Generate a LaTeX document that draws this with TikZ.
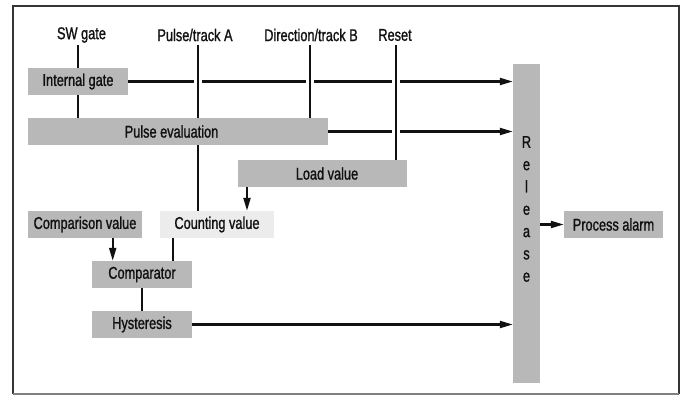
\documentclass[tikz,border=0pt]{standalone}
\usepackage{fontspec}
\setmainfont[FakeStretch=0.75,FakeBold=1.2]{Liberation Sans}
\usetikzlibrary{arrows.meta}
\definecolor{boxgray}{HTML}{B8B8B8}
\definecolor{lightbox}{HTML}{ECECEC}
\definecolor{ink}{HTML}{111111}
\tikzset{
  blk/.style={fill=boxgray, draw=none, inner sep=0pt, minimum height=27pt, text=ink,
    font=\fontsize{17}{20}\selectfont},
  lbl/.style={inner sep=0pt, text=ink, font=\fontsize{17}{20}\selectfont},
  wire/.style={line width=2.1pt, draw=ink},
  arr/.style={wire, -{Triangle[length=13pt,width=7pt]}},
  gapped/.style={wire, preaction={draw=white, line width=8pt}}
}
\begin{document}
\begin{tikzpicture}[x=1pt,y=-1pt]
\useasboundingbox (0,0) rectangle (685,396);
% frame
\draw[line width=2pt, draw=ink!85] (13,394) -- (13,6) -- (679,6) -- (679,394);
\draw[line width=1.2pt, draw=gray] (13,394) -- (679,394);

% labels
\node[lbl] (swg) at (81.5,35) {SW gate};
\node[lbl] (pta) at (195,35) {Pulse/track A};
\node[lbl] (dtb) at (311,35) {Direction/track B};
\node[lbl] (rst) at (395,35) {Reset};
\coordinate (swgt) at (78.3,45);
\coordinate (ptat) at (198,45);
\coordinate (dtbt) at (310,45);
\coordinate (rstt) at (395.7,45);

% boxes
\node[blk, minimum width=100pt] (ig) at (78,81.5) {Internal gate};
\node[blk, minimum width=300pt] (pe) at (178,131.5) {\hspace*{-13pt}Pulse evaluation};
\node[blk, minimum width=169pt] (lv) at (322.5,173.5) {\hspace*{9pt}Load value};
\node[blk, minimum width=114pt] (cmpv) at (85,224.5) {Comparison value};
\node[blk, minimum width=114pt, fill=lightbox] (cnt) at (217,224.5) {Counting value};
\node[blk, minimum width=100pt] (comp) at (142,274.5) {Comparator};
\node[blk, minimum width=100pt] (hys) at (142,324.5) {Hysteresis};
\node[blk, minimum width=27pt, minimum height=319pt] (rel) at (526.5,223.5) {};
\node[lbl, align=center, font=\fontsize{17}{22.3}\selectfont] (reltxt) at (526.5,209) {R\\e\\l\\e\\a\\s\\e};
\node[blk, minimum width=99pt] (pa) at (613.5,224.5) {Process alarm};

% horizontal connectors
\draw[arr] (ig.east) -- (ig.east -| rel.west);
\draw[arr] (pe.east) -- (pe.east -| rel.west);
\draw[arr] (hys.east) -- (hys.east -| rel.west);
\draw[arr] (rel.east |- pa.west) -- (pa.west);

% vertical connectors
\draw[wire] (swgt) -- (swgt |- ig.north);
\draw[wire] (swgt |- ig.south) -- (swgt |- pe.north);
\draw[gapped] (ptat) -- (ptat |- pe.north);
\draw[wire] (ptat |- pe.south) -- (ptat |- cnt.north);
\draw[gapped] (dtbt) -- (dtbt |- pe.north);
\draw[gapped] (rstt) -- (rstt |- lv.north);
\coordinate (lvo) at (247,187);
\draw[arr] (lvo |- lv.south) -- (lvo |- cnt.north);
\coordinate (cmo) at (112.7,238);
\draw[arr] (cmo |- cmpv.south) -- (cmo |- comp.north);
\coordinate (cno) at (173,238);
\draw[wire] (cno |- cnt.south) -- (cno |- comp.north);
\draw[wire] (comp.south) -- (hys.north);
\end{tikzpicture}
\end{document}
